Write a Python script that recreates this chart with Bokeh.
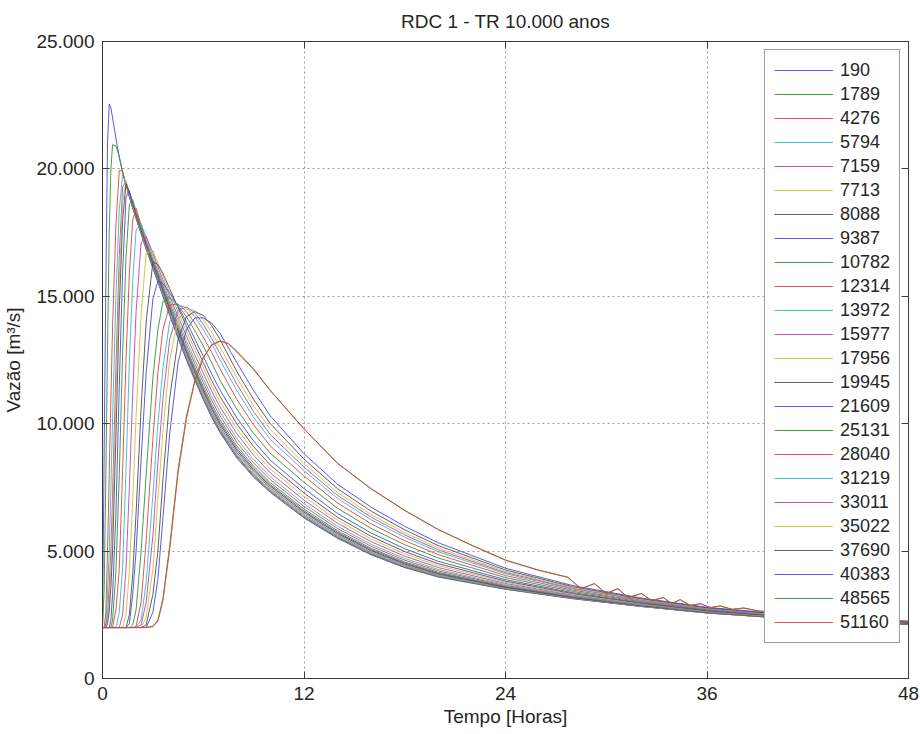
from bokeh.plotting import figure
from bokeh.models import Range1d, FixedTicker, LinearAxis, Legend, LegendItem
from bokeh.embed import file_html
from bokeh.resources import INLINE

# ---------------- data ----------------
title_text = "RDC 1 - TR 10.000 anos"
x_label = "Tempo [Horas]"
y_label = "Vazão [m³/s]"

x_ticks = [0, 12, 24, 36, 48]
y_ticks = [0, 5000, 10000, 15000, 20000, 25000]
y_tick_labels = ["0", "5.000", "10.000", "15.000", "20.000", "25.000"]

stations = [190, 1789, 4276, 5794, 7159, 7713, 8088, 9387, 10782, 12314, 13972, 15977,
            17956, 19945, 21609, 25131, 28040, 31219, 33011, 35022, 37690, 40383, 48565, 51160]

hours = [0, 0.1, 0.2, 0.3, 0.4, 0.5, 0.6, 0.8, 1.0, 1.2,
         1.4, 1.6, 1.8, 2.0, 2.3, 2.6, 3.0, 3.3, 3.6, 4.0,
         4.5, 5.0, 5.5, 6.0, 6.5, 7.0, 8, 9, 10, 12,
         14, 16, 18, 20, 24, 28, 32, 36, 42, 48]

hours_far = [0, 2.6, 3.0, 3.3, 3.6, 4.0, 4.5, 5.0, 5.5, 6.0,
             6.5, 7.0, 7.5, 8, 9, 10, 12, 14, 16, 18,
             20, 22, 24, 26, 27.7, 28.5, 29.3, 30.0, 30.7, 31.3,
             32.1, 32.7, 33.4, 33.9, 34.4, 35.0, 35.6, 36.2, 36.8, 37.5,
             38.2, 39.0, 42, 45, 48]

q_190 = [2000, 9000, 15500, 21000, 22550, 22400, 22000, 21200, 20450, 19850,
         19350, 18900, 18450, 18050, 17450, 16850, 16100, 15550, 15000, 14250,
         13350, 12500, 11700, 10950, 10250, 9650, 8650, 7900, 7300, 6300,
         5500, 4850, 4350, 3980, 3500, 3130, 2830, 2570, 2300, 2130]
q_1789 = [2000, 3500, 8000, 13000, 17500, 20000, 20950, 20900, 20480, 19870,
          19370, 18920, 18470, 18060, 17470, 16870, 16125, 15580, 15030, 14290,
          13395, 12550, 11750, 11000, 10300, 9700, 8700, 7940, 7340, 6330,
          5530, 4880, 4370, 4000, 3510, 3140, 2835, 2575, 2300, 2130]
q_4276 = [2000, 2000, 2600, 5000, 8000, 11000, 13800, 17800, 19950, 19900,
          19390, 18940, 18490, 18070, 17490, 16890, 16150, 15610, 15065, 14330,
          13440, 12600, 11800, 11055, 10355, 9750, 8745, 7985, 7375, 6370,
          5560, 4900, 4395, 4020, 3525, 3145, 2840, 2575, 2305, 2130]
q_5794 = [2000, 2000, 2150, 3300, 5000, 7500, 10200, 15000, 18400, 19780,
          19420, 18970, 18520, 18100, 17510, 16910, 16175, 15640, 15100, 14365,
          13480, 12640, 11850, 11105, 10405, 9800, 8795, 8030, 7415, 6405,
          5590, 4928, 4418, 4036, 3535, 3152, 2844, 2579, 2306, 2134]
q_7159 = [2000, 2000, 2050, 2500, 3600, 5000, 7200, 12200, 16600, 19300,
          19500, 19000, 18550, 18140, 17550, 16950, 16210, 15690, 15150, 14420,
          13545, 12710, 11925, 11185, 10480, 9880, 8865, 8095, 7470, 6458,
          5633, 4967, 4451, 4064, 3552, 3162, 2851, 2584, 2309, 2135]
q_7713 = [2000, 2000, 2000, 2300, 3000, 4300, 6200, 11000, 15700, 18700,
          19520, 19050, 18580, 18160, 17570, 16980, 16240, 15720, 15180, 14460,
          13590, 12760, 11975, 11235, 10530, 9930, 8915, 8135, 7510, 6493,
          5662, 4993, 4474, 4083, 3563, 3170, 2856, 2587, 2311, 2137]
q_8088 = [2000, 2000, 2000, 2150, 2600, 3600, 5000, 9500, 14500, 18000,
          19430, 19080, 18610, 18190, 17600, 17010, 16270, 15750, 15215, 14500,
          13630, 12805, 12025, 11290, 10585, 9980, 8960, 8180, 7550, 6528,
          5692, 5019, 4496, 4102, 3575, 3177, 2861, 2590, 2313, 2138]
q_9387 = [2000, 2000, 2000, 2000, 2000, 2300, 3300, 6500, 11500, 16000,
          18900, 19150, 18680, 18240, 17640, 17050, 16310, 15800, 15265, 14555,
          13695, 12875, 12100, 11365, 10660, 10055, 9035, 8245, 7605, 6580,
          5736, 5058, 4530, 4130, 3592, 3188, 2868, 2595, 2316, 2140]
q_10782 = [2000, 2000, 2000, 2000, 2000, 2000, 2300, 4200, 8000, 12800,
           16500, 18600, 18800, 18320, 17700, 17100, 16360, 15850, 15330, 14630,
           13780, 12970, 12200, 11470, 10765, 10160, 9130, 8330, 7680, 6650,
           5795, 5110, 4575, 4167, 3615, 3202, 2877, 2601, 2320, 2142]
q_12314 = [2000, 2000, 2000, 2000, 2000, 2000, 2000, 2700, 4300, 8200,
           12500, 15900, 18000, 18450, 17800, 17200, 16450, 15930, 15420, 14740,
           13900, 13110, 12350, 11625, 10920, 10310, 9270, 8460, 7795, 6755,
           5884, 5188, 4643, 4223, 3650, 3224, 2891, 2610, 2326, 2146]
q_13972 = [2000, 2000, 2000, 2000, 2000, 2000, 2000, 2000, 2600, 4400,
           8200, 12400, 15600, 17600, 17850, 17330, 16550, 16020, 15530, 14860,
           14040, 13250, 12500, 11780, 11075, 10460, 9415, 8590, 7910, 6860,
           5972, 5266, 4710, 4279, 3684, 3245, 2905, 2620, 2332, 2149]
q_15977 = [2000, 2000, 2000, 2000, 2000, 2000, 2000, 2000, 2000, 2500,
           4300, 7500, 11200, 14400, 17100, 17350, 16700, 16150, 15650, 15000,
           14200, 13440, 12700, 11990, 11280, 10660, 9610, 8760, 8065, 7000,
           6090, 5370, 4800, 4354, 3730, 3274, 2924, 2632, 2340, 2154]
q_17956 = [2000, 2000, 2000, 2000, 2000, 2000, 2000, 2000, 2000, 2000,
           2500, 4200, 7000, 10300, 14300, 16700, 16800, 16300, 15800, 15150,
           14380, 13630, 12900, 12200, 11490, 10870, 9800, 8930, 8220, 7140,
           6208, 5474, 4890, 4429, 3776, 3303, 2943, 2644, 2348, 2159]
q_19945 = [2000, 2000, 2000, 2000, 2000, 2000, 2000, 2000, 2000, 2000,
           2000, 2500, 4100, 6500, 10600, 14000, 16350, 16250, 15900, 15300,
           14550, 13820, 13100, 12400, 11700, 11070, 9990, 9100, 8370, 7280,
           6326, 5578, 4980, 4504, 3822, 3332, 2962, 2657, 2356, 2164]
q_21609 = [2000, 2000, 2000, 2000, 2000, 2000, 2000, 2000, 2000, 2000,
           2000, 2150, 3300, 5000, 8600, 12000, 14900, 15600, 15500, 15150,
           14600, 14000, 13330, 12650, 11950, 11320, 10230, 9320, 8560, 7455,
           6474, 5708, 5093, 4597, 3880, 3368, 2985, 2672, 2366, 2170]
q_25131 = [2000, 2000, 2000, 2000, 2000, 2000, 2000, 2000, 2000, 2000,
           2000, 2000, 2100, 2700, 5000, 8000, 11800, 13700, 14800, 14950,
           14650, 14200, 13650, 13050, 12400, 11700, 10570, 9620, 8830, 7700,
           6680, 5890, 5250, 4728, 3960, 3418, 3018, 2694, 2380, 2178]
q_28040 = [2000, 2000, 2000, 2000, 2000, 2000, 2000, 2000, 2000, 2000,
           2000, 2000, 2000, 2050, 3000, 5400, 9400, 12000, 13700, 14650,
           14700, 14400, 13950, 13400, 12800, 12150, 10950, 9950, 9120, 7945,
           6887, 6072, 5408, 4859, 4040, 3468, 3051, 2716, 2394, 2186]
q_31219 = [2000, 2000, 2000, 2000, 2000, 2000, 2000, 2000, 2000, 2000,
           2000, 2000, 2000, 2000, 2300, 3800, 7200, 10000, 12200, 14000,
           14650, 14550, 14200, 13700, 13150, 12500, 11300, 10250, 9380, 8155,
           7064, 6228, 5543, 4971, 4110, 3512, 3079, 2734, 2406, 2194]
q_33011 = [2000, 2000, 2000, 2000, 2000, 2000, 2000, 2000, 2000, 2000,
           2000, 2000, 2000, 2000, 2100, 3000, 5600, 8500, 11000, 13300,
           14450, 14580, 14350, 13900, 13350, 12750, 11550, 10470, 9570, 8295,
           7182, 6332, 5633, 5046, 4156, 3540, 3098, 2747, 2414, 2198]
q_35022 = [2000, 2000, 2000, 2000, 2000, 2000, 2000, 2000, 2000, 2000,
           2000, 2000, 2000, 2000, 2000, 2400, 4300, 7000, 9700, 12500,
           14100, 14500, 14450, 14100, 13600, 13000, 11800, 10700, 9770, 8435,
           7300, 6436, 5723, 5121, 4202, 3569, 3117, 2759, 2422, 2203]
q_37690 = [2000, 2000, 2000, 2000, 2000, 2000, 2000, 2000, 2000, 2000,
           2000, 2000, 2000, 2000, 2000, 2100, 3300, 5000, 7800, 11000,
           13300, 14200, 14400, 14250, 13850, 13300, 12050, 10950, 10000, 8610,
           7447, 6566, 5835, 5214, 4259, 3605, 3140, 2775, 2432, 2209]
q_40383 = [2000, 2000, 2000, 2000, 2000, 2000, 2000, 2000, 2000, 2000,
           2000, 2000, 2000, 2000, 2000, 2000, 2600, 3900, 6300, 9600,
           12400, 13700, 14150, 14150, 13950, 13550, 12400, 11300, 10300, 8820,
           7624, 6722, 5970, 5326, 4328, 3648, 3168, 2793, 2444, 2216]
q_48565 = [2000, 2000, 2050, 2300, 3150, 5200, 8200, 10300, 11700, 12600,
           13100, 13250, 13150, 12850, 12150, 11300, 9800, 8450, 7450, 6600,
           5850, 5230, 4650, 4250, 3980, 3530, 3730, 3340, 3530, 3180,
           3340, 3060, 3180, 2940, 3100, 2870, 2940, 2790, 2850, 2720,
           2770, 2660, 2500, 2370, 2250]
q_51160 = [2000, 2000, 2030, 2250, 3050, 5050, 8050, 10200, 11650, 12570,
           13080, 13230, 13140, 12800, 12130, 11290, 9790, 8440, 7440, 6590,
           5840, 5220, 4640, 4240, 3970, 3520, 3720, 3330, 3520, 3170,
           3330, 3050, 3170, 2930, 3090, 2860, 2930, 2780, 2840, 2710,
           2760, 2650, 2495, 2365, 2245]

flows = [q_190, q_1789, q_4276, q_5794, q_7159, q_7713, q_8088, q_9387, q_10782,
         q_12314, q_13972, q_15977, q_17956, q_19945, q_21609, q_25131, q_28040,
         q_31219, q_33011, q_35022, q_37690, q_40383, q_48565, q_51160]
times = [hours] * 22 + [hours_far, hours_far]

# MATLAB-like colour order (b, g, r, c, m, y, k), slightly softened as in the picture
colors = ["#4848e0", "#2f962f", "#e84040", "#30c0c0", "#c040c0", "#c8c430", "#505050"]

FONT = "Liberation Sans"
TXT = "#262626"
AX = "#3c3c3c"

p = figure(width=920, height=734, output_backend="svg", toolbar_location=None,
           x_range=Range1d(0, 48), y_range=Range1d(0, 25000),
           min_border_left=101, min_border_right=12, min_border_top=41, min_border_bottom=56,
           title=title_text)
p.background_fill_color = "white"
p.border_fill_color = "white"
p.outline_line_color = AX
p.outline_line_width = 1

p.title.align = "center"
p.title.vertical_align = "top"
p.title.text_font = FONT
p.title.text_font_size = "19px"
p.title.text_font_style = "normal"
p.title.text_color = TXT
p.title.standoff = 15

renderers = []
for i, (t, q) in enumerate(zip(times, flows)):
    r = p.line(t, q, line_color=colors[i % 7], line_width=1.0, line_alpha=0.9)
    renderers.append(r)

xt = FixedTicker(ticks=x_ticks)
yt = FixedTicker(ticks=y_ticks)

xa = p.xaxis[0]
ya = p.yaxis[0]
xa.ticker = xt
ya.ticker = yt
ya.major_label_overrides = {v: s for v, s in zip(y_ticks, y_tick_labels)}
xa.axis_label = x_label
ya.axis_label = y_label
for ax in (xa, ya):
    ax.axis_line_color = AX
    ax.major_tick_line_color = AX
    ax.major_tick_in = 7
    ax.major_tick_out = 0
    ax.minor_tick_line_color = None
    ax.major_label_text_font = FONT
    ax.major_label_text_font_size = "19px"
    ax.major_label_text_color = TXT
    ax.axis_label_text_font = FONT
    ax.axis_label_text_font_size = "19px"
    ax.axis_label_text_font_style = "normal"
    ax.axis_label_text_color = TXT
    ax.major_label_standoff = 8
xa.axis_label_standoff = 3
ya.axis_label_standoff = 9

# box ticks on top and right like the original
top = LinearAxis(ticker=FixedTicker(ticks=x_ticks),
                 major_label_overrides={v: "" for v in x_ticks})
right = LinearAxis(ticker=FixedTicker(ticks=y_ticks),
                   major_label_overrides={v: "" for v in y_ticks})
for ax in (top, right):
    ax.axis_line_color = AX
    ax.major_tick_line_color = AX
    ax.major_tick_in = 7
    ax.major_tick_out = 0
    ax.minor_tick_line_color = None
    ax.major_label_text_font_size = "1px"
    ax.major_label_standoff = 0
p.add_layout(top, "above")
p.add_layout(right, "right")

for g, tk in ((p.xgrid[0], xt), (p.ygrid[0], yt)):
    g.ticker = tk
    g.grid_line_color = "#9a9a9a"
    g.grid_line_dash = "2 3"
    g.grid_line_width = 1

items = [LegendItem(label=str(s), renderers=[r]) for s, r in zip(stations, renderers)]
legend = Legend(items=items, location="top_right")
legend.margin = 8
legend.padding = 9
legend.spacing = 2
legend.label_height = 22
legend.glyph_height = 22
legend.glyph_width = 59
legend.label_standoff = 7
legend.label_text_font = FONT
legend.label_text_font_size = "18px"
legend.label_text_color = TXT
legend.border_line_color = AX
legend.border_line_width = 1
legend.background_fill_color = "white"
legend.background_fill_alpha = 1
p.add_layout(legend)

open("out.html", "w").write(file_html(p, INLINE))
